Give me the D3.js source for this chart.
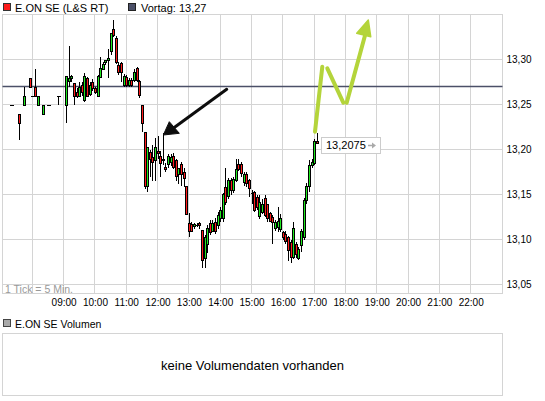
<!DOCTYPE html>
<html><head><meta charset="utf-8">
<script src="https://cdn.jsdelivr.net/npm/d3@7"></script>
<style>
body{margin:0;background:#fff;}
svg{display:block;font-family:"Liberation Sans",Arial,sans-serif;}
</style>
</head><body><svg id="c" width="545" height="401"></svg>
<script>
// ---------- data ----------
const candleStart = "07:20";
const candleStepMin = 5;
const opens = [13.25,null,null,13.24,null,13.25,null,13.28,13.26,13.27,
 13.25,null,13.24,null,13.25,null,null,null,13.26,null,
 null,13.25,13.276,13.279,13.274,13.264,13.26,13.272,13.255,13.279,
 13.262,13.275,13.268,13.26,13.281,13.29,13.297,13.30,13.309,13.334,
 13.324,13.294,13.296,13.272,13.281,13.272,13.277,13.277,13.291,13.276,
 13.25,13.22,13.159,13.197,13.192,13.188,13.198,13.193,13.19,13.181,
 13.184,13.186,13.193,13.188,13.173,13.184,13.175,13.16,13.118,13.117,
 13.115,13.116,13.118,13.111,13.079,13.095,13.118,13.11,13.12,13.116,
 13.124,13.124,13.158,13.148,13.166,13.155,13.166,13.184,13.184,13.164,
 13.173,13.166,13.152,13.153,13.147,13.126,13.131,13.146,13.139,13.129,
 13.125,13.113,13.114,13.112,13.108,13.106,13.103,13.097,13.081,13.095,
 13.079,13.094,13.103,13.144,13.159,13.183,13.185,13.2095];
const highs = [13.25,null,null,13.24,null,13.27,null,13.28,13.26,13.29,
 13.26,null,13.25,null,13.25,null,null,null,13.26,null,
 null,13.282,13.315,13.283,13.274,13.268,13.275,13.275,13.285,13.281,
 13.275,13.278,13.27,13.283,13.303,13.297,13.30,13.312,13.329,13.344,
 13.326,13.297,13.297,13.284,13.283,13.279,13.279,13.289,13.292,13.277,
 13.25,13.22,13.203,13.20,13.205,13.213,13.215,13.198,13.218,13.185,
 13.195,13.195,13.196,13.19,13.18,13.186,13.18,13.16,13.129,13.12,
 13.118,13.118,13.12,13.111,13.105,13.116,13.122,13.122,13.124,13.13,
 13.136,13.152,13.179,13.168,13.168,13.17,13.19,13.19,13.186,13.175,
 13.175,13.167,13.155,13.154,13.15,13.149,13.145,13.15,13.14,13.131,
 13.127,13.122,13.136,13.128,13.11,13.11,13.104,13.10,13.12,13.097,
 13.092,13.112,13.146,13.163,13.188,13.19,13.212,13.218];
const lows = [13.25,null,null,13.21,null,13.25,null,13.27,13.26,13.26,
 13.25,null,13.24,null,13.25,null,null,null,13.25,null,
 null,13.229,13.27,13.275,13.25,13.257,13.258,13.26,13.253,13.258,
 13.26,13.265,13.262,13.258,13.279,13.288,13.294,13.279,13.305,13.325,
 13.295,13.283,13.275,13.27,13.27,13.27,13.27,13.275,13.275,13.257,
 13.22,13.156,13.153,13.17,13.165,13.165,13.19,13.17,13.183,13.175,
 13.18,13.182,13.178,13.165,13.162,13.159,13.158,13.128,13.103,13.108,
 13.112,13.114,13.112,13.068,13.068,13.085,13.105,13.108,13.106,13.112,
 13.12,13.12,13.138,13.145,13.15,13.152,13.164,13.176,13.17,13.16,
 13.158,13.147,13.14,13.13,13.133,13.123,13.128,13.125,13.12,13.12,
 13.095,13.11,13.108,13.108,13.10,13.095,13.076,13.074,13.078,13.08,
 13.077,13.086,13.10,13.14,13.153,13.18,13.183,13.2075];
const closes = [13.25,null,null,13.23,null,13.26,null,13.27,13.26,13.26,
 13.26,null,13.25,null,13.25,null,null,null,13.26,null,
 null,13.282,13.28,13.282,13.26,13.26,13.27,13.264,13.282,13.26,
 13.272,13.268,13.264,13.282,13.291,13.295,13.30,13.302,13.329,13.327,
 13.297,13.286,13.286,13.282,13.272,13.277,13.272,13.286,13.277,13.261,
 13.23,13.159,13.203,13.19,13.186,13.203,13.196,13.185,13.188,13.178,
 13.193,13.192,13.181,13.171,13.179,13.173,13.168,13.128,13.109,13.11,
 13.117,13.116,13.116,13.077,13.103,13.113,13.108,13.118,13.11,13.127,
 13.133,13.151,13.142,13.166,13.155,13.167,13.178,13.178,13.174,13.173,
 13.163,13.157,13.152,13.133,13.136,13.142,13.14,13.127,13.124,13.121,
 13.12,13.12,13.121,13.124,13.103,13.098,13.088,13.081,13.113,13.084,
 13.09,13.109,13.144,13.159,13.183,13.186,13.209,13.2075];
const previousClose = 13.27;
const lastPrice = 13.2075;
const priceTicks = [13.05,13.10,13.15,13.20,13.25,13.30];
const gridHours = ["08:00","09:00","10:00","11:00","12:00","13:00","14:00","15:00","16:00","17:00","18:00","19:00","20:00","21:00","22:00"];
const hourLabels = ["09:00","10:00","11:00","12:00","13:00","14:00","15:00","16:00","17:00","18:00","19:00","20:00","21:00","22:00"];
const timeDomain = ["07:00:00","23:00:00"];
const seriesName = "E.ON SE (L&S RT)";
const prevName = "Vortag: 13,27";
const volumeName = "E.ON SE Volumen";
const noVolumeText = "keine Volumendaten vorhanden";
const tickNote = "1 Tick = 5 Min.";
// annotation paths in (time, price) space
const greenArrowSegs = [
  [["17:01:40",13.2198],["17:15:40",13.292]],
  [["17:25:15",13.2902],["17:55:55",13.252]],
  [["18:02:25",13.252],["18:39:25",13.3309]]
];
const greenArrowHead = [["18:43:50",13.3439],["18:21:40",13.3291],["18:48:25",13.3253]];
const blackArrowLine = [["14:12:30",13.2669],["12:32:00",13.2244]];
const blackArrowHead = [["12:11:00",13.2161],["12:22:30",13.2309],["12:41:40",13.218]];

// ---------- setup ----------
const svg = d3.select("#c");
const pT = d3.timeParse("%H:%M:%S");
const pHM = d3.timeParse("%H:%M");
const x = d3.scaleTime().domain(timeDomain.map(pT)).range([1, 502]);
const y = d3.scaleLinear().domain([13.05, 13.30]).range([284.5, 59.5]);
const L = 2.5, R = 502.5, T = 14.5, B = 293.5;
const loc = d3.formatLocale({decimal: ",", thousands: ".", grouping: [3], currency: ["", "€"]});
const f2 = loc.format(".2f"), f4 = loc.format(".4f");
const GRID = "#d4d4d4";

const defs = svg.append("defs");
defs.append("clipPath").attr("id","clip").append("rect").attr("x",L).attr("y",T).attr("width",R-L).attr("height",B-T);
defs.append("filter").attr("id","blur").attr("x","-20%").attr("y","-20%").attr("width","140%").attr("height","140%")
  .append("feGaussianBlur").attr("stdDeviation",0.6);

// legend top
const lg = svg.append("g");
lg.append("rect").attr("x",3.5).attr("y",3.5).attr("width",7).attr("height",7).attr("fill","#ff1c1c").attr("stroke","#333");
lg.append("text").attr("x",15).attr("y",11.5).attr("font-size",11).text(seriesName);
lg.append("rect").attr("x",128.5).attr("y",3.5).attr("width",7).attr("height",7).attr("fill","#4b5068").attr("stroke","#222");
lg.append("text").attr("x",141).attr("y",11.5).attr("font-size",11).text(prevName);

// grid
const grid = svg.append("g").attr("shape-rendering","crispEdges");
grid.selectAll(".h").data(priceTicks).join("line")
  .attr("x1",L).attr("x2",R).attr("y1",d=>Math.round(y(d)-0.5)+0.5).attr("y2",d=>Math.round(y(d)-0.5)+0.5)
  .attr("stroke",GRID);
grid.selectAll(".v").data(gridHours).join("line")
  .attr("x1",d=>Math.round(x(pHM(d))-0.5)+0.5).attr("x2",d=>Math.round(x(pHM(d))-0.5)+0.5)
  .attr("y1",T).attr("y2",B).attr("stroke",GRID);
grid.append("rect").attr("x",L).attr("y",T).attr("width",R-L).attr("height",B-T).attr("fill","none").attr("stroke",GRID);

// tick note
svg.append("text").attr("x",5).attr("y",292.5).attr("font-size",10.5).attr("fill","#999").text(tickNote);

// previous close line
svg.append("line").attr("x1",L).attr("x2",R).attr("y1",y(previousClose)).attr("y2",y(previousClose))
  .attr("stroke","#4b5068").attr("stroke-width",1.6);

// candles
const base = pHM(candleStart);
const candles = opens.map((o,i)=>({t:d3.timeMinute.offset(base,i*candleStepMin),o,h:highs[i],l:lows[i],c:closes[i]}))
  .filter(d=>d.o!=null);
const cg = svg.append("g").attr("clip-path","url(#clip)").attr("shape-rendering","crispEdges");
candles.forEach(d=>{
  const cx = Math.round(x(d.t));
  const yh = Math.round(y(d.h)), yl = Math.round(y(d.l));
  const yo = Math.round(y(d.o)), yc = Math.round(y(d.c));
  if (yl > yh) cg.append("line").attr("x1",cx+0.5).attr("x2",cx+0.5).attr("y1",yh).attr("y2",yl).attr("stroke","#000");
  if (Math.abs(yo-yc) < 1) {
    cg.append("line").attr("x1",cx-1.5).attr("x2",cx+2.5).attr("y1",yo+0.5).attr("y2",yo+0.5).attr("stroke","#000");
  } else {
    const top = Math.min(yo,yc), h = Math.abs(yo-yc);
    cg.append("rect").attr("x",cx-0.5).attr("y",top+0.5).attr("width",2).attr("height",h)
      .attr("fill", d.c>=d.o ? "#1fe81f" : "#ff1c1c").attr("stroke","#000");
  }
});

// axes
const ax = svg.append("g").attr("transform",`translate(0,${B+0.5})`)
  .call(d3.axisBottom(x).tickValues(hourLabels.map(pHM)).tickFormat(d3.timeFormat("%H:%M")).tickSize(0).tickPadding(5));
ax.select(".domain").remove();
ax.selectAll("text").attr("font-size",10).attr("font-family","Liberation Sans, Arial, sans-serif").attr("fill","#000");
const ay = svg.append("g").attr("transform",`translate(${R},0)`)
  .call(d3.axisRight(y).tickValues(priceTicks).tickFormat(f2).tickSize(0).tickPadding(4));
ay.select(".domain").remove();
ay.selectAll("text").attr("font-size",10).attr("font-family","Liberation Sans, Arial, sans-serif").attr("fill","#000");

// last price box
const lastT = candles[candles.length-1].t;
const bx = x(lastT) + 4.5, byc = y(lastPrice) + 2;
const lb = svg.append("g");
lb.append("rect").attr("x",Math.round(bx)+0.5).attr("y",Math.round(byc-8)+0.5).attr("width",59).attr("height",16)
  .attr("fill","#fff").attr("stroke","#ccc");
lb.append("text").attr("x",Math.round(bx)+5).attr("y",Math.round(byc)+4).attr("font-size",11).text(f4(lastPrice));
const ax0 = Math.round(bx)+47, ay0 = Math.round(byc)+0.5;
lb.append("line").attr("x1",ax0).attr("x2",ax0+5).attr("y1",ay0).attr("y2",ay0).attr("stroke","#aaa").attr("stroke-width",1.5);
lb.append("path").attr("d",`M${ax0+4},${ay0-3}L${ax0+8},${ay0}L${ax0+4},${ay0+3}Z`).attr("fill","#aaa");

// annotations
const P = p => [x(pT(p[0])), y(p[1])];
const ann = svg.append("g").attr("filter","url(#blur)");
greenArrowSegs.forEach(s=>{
  ann.append("path").attr("d",d3.line()(s.map(P))).attr("stroke","#b4d43a").attr("stroke-width",4).attr("stroke-linecap","round").attr("fill","none");
});
ann.append("path").attr("d",d3.line()(greenArrowHead.map(P))+"Z").attr("fill","#b4d43a").attr("stroke","#b4d43a").attr("stroke-width",1.5).attr("stroke-linejoin","round");
ann.append("path").attr("d",d3.line()(blackArrowLine.map(P))).attr("stroke","#111").attr("stroke-width",3).attr("stroke-linecap","round").attr("fill","none");
ann.append("path").attr("d",d3.line()(blackArrowHead.map(P))+"Z").attr("fill","#111").attr("stroke","#111").attr("stroke-width",1).attr("stroke-linejoin","round");

// volume panel
const vg = svg.append("g");
vg.append("rect").attr("x",3.5).attr("y",319.5).attr("width",7).attr("height",7).attr("fill","#aaa").attr("stroke","#444");
vg.append("text").attr("x",15).attr("y",327.5).attr("font-size",10.5).text(volumeName);
vg.append("rect").attr("x",L).attr("y",333.5).attr("width",R-L).attr("height",62).attr("fill","none").attr("stroke",GRID).attr("shape-rendering","crispEdges");
vg.append("text").attr("x",(L+R)/2).attr("y",370).attr("text-anchor","middle").attr("font-size",13).text(noVolumeText);
</script>
</body></html>
